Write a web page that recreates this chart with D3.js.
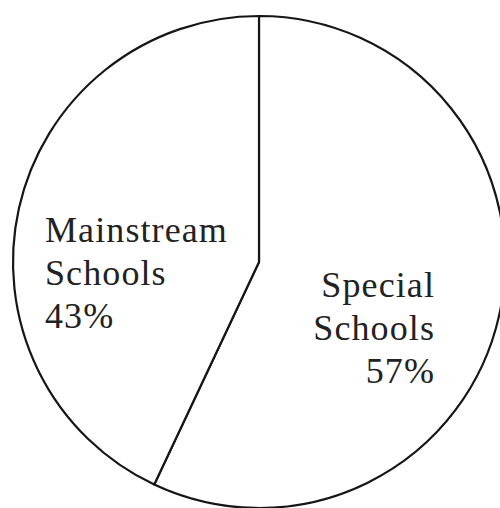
<!DOCTYPE html>
<html>
<head>
<meta charset="utf-8">
<script src="https://cdn.jsdelivr.net/npm/d3@7"></script>
<style>
  html, body { margin: 0; padding: 0; background: #fff; }
  svg { display: block; }
</style>
</head>
<body>
<script>
// chart data
const categories = ['Special Schools', 'Mainstream Schools'];
const shares = [57, 43];
const labelLines = [
  ['Special', 'Schools', '57%'],
  ['Mainstream', 'Schools', '43%']
];

const width = 500;
const height = 508;
const cx = 259;
const cy = 262;
const radius = 246;

const svg = d3
  .select('body')
  .append('svg')
  .attr('width', width)
  .attr('height', height);

const g = svg.append('g').attr('transform', `translate(${cx},${cy})`);

const pie = d3.pie().sort(null).value(d => d.value);
const arc = d3.arc().innerRadius(0).outerRadius(radius);

const slices = pie(categories.map((c, i) => ({ name: c, value: shares[i], lines: labelLines[i] })));

// Slices
g.selectAll('path.slice')
  .data(slices)
  .enter()
  .append('path')
  .attr('class', 'slice')
  .attr('d', arc)
  .attr('fill', '#fff')
  .attr('stroke', '#161616')
  .attr('stroke-width', 2.2)
  .attr('stroke-linejoin', 'round');

// Labels (right slice right-aligned, left slice left-aligned)
const labelPos = [
  { x: 176, y: 35, anchor: 'end' },
  { x: -214, y: -20, anchor: 'start' }
];
const lineHeight = 43;

const labels = g.selectAll('text.label')
  .data(slices)
  .enter()
  .append('text')
  .attr('class', 'label')
  .attr('font-family', '"Liberation Serif", "DejaVu Serif", serif')
  .attr('font-size', 36)
  .attr('letter-spacing', 1.1)
  .attr('fill', '#222')
  .attr('text-anchor', (d, i) => labelPos[i].anchor);

labels.each(function (d, i) {
  const t = d3.select(this);
  d.data.lines.forEach((line, j) => {
    t.append('tspan')
      .attr('x', labelPos[i].x)
      .attr('y', labelPos[i].y + j * lineHeight)
      .text(line);
  });
});
</script>
</body>
</html>
